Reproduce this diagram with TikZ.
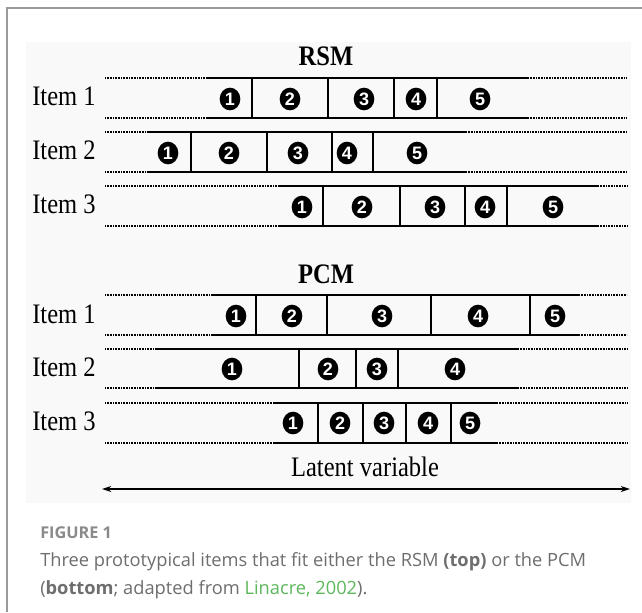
\documentclass[tikz,border=0pt]{standalone}
\usepackage{fontspec}
\usepackage{graphicx}
\setmainfont{Liberation Serif}
\newfontfamily\capfont{Open Sans}
\newfontfamily\numfont{Liberation Sans}
\usetikzlibrary{shapes.geometric,arrows.meta}
\definecolor{framegray}{HTML}{9A9A9A}
\definecolor{capgray}{HTML}{6E6E6E}
\definecolor{figgray}{HTML}{8A8A8A}
\definecolor{lingreen}{HTML}{5DB85C}
\definecolor{panel}{HTML}{F9F9F9}
\newcommand\tallText[1]{\scalebox{1}[1.15]{#1}}
\tikzset{
  lbl/.style={anchor=base west, font=\fontsize{18.4}{20}\selectfont, inner sep=0},
  ttl/.style={anchor=base, font=\fontsize{18.4}{20}\selectfont\bfseries, inner sep=0},
  num/.style={ellipse, fill=black, text=white, inner sep=0, minimum width=15.5pt, minimum height=17pt, font=\numfont\bfseries\fontsize{13.5}{13.5}\selectfont},
  solidln/.style={line width=1.5pt},
  divln/.style={line width=1.1pt},
  dotln/.style={line width=1.1pt, dash pattern=on 0.6pt off 0.6pt},
  captext/.style={anchor=base west, inner sep=0, text=capgray, font=\capfont\fontsize{13.7}{16}\selectfont},
}
\newcommand\myBarRow[5]{%
  \draw[dotln] (105,#1) -- (#3,#1) (105,#2) -- (#3,#2);
  \draw[dotln] (#4,#1) -- (627,#1) (#4,#2) -- (627,#2);
  \draw[solidln] (#3,#1) -- (#4,#1) (#3,#2) -- (#4,#2);
  \foreach \d in {#5} \draw[divln] (\d,#1) -- (\d,#2);
}
\begin{document}
\begin{tikzpicture}[x=0.75pt,y=-0.75pt]
\useasboundingbox (0,0) rectangle (642,612);
\fill[white] (0,0) rectangle (642,612);
\draw[framegray, line width=1.5pt] (7,612) -- (7,8) -- (642,8);
\fill[panel] (26,42) rectangle (631,503);

% RSM
\node[ttl] (rsm) at (326,65) {\tallText{RSM}};
\node[lbl] (r1) at (32,105) {\tallText{Item 1}};
\node[lbl] (r2) at (32,159) {\tallText{Item 2}};
\node[lbl] (r3) at (32,213) {\tallText{Item 3}};
\myBarRow{78}{118}{208}{528}{252,328,394,437}
\myBarRow{132}{172}{147}{466}{191,267,332,373}
\myBarRow{186}{226}{278}{598}{323,400,465,507}
\foreach \x [count=\i] in {230,290,364,416,480} \node[num] (ra\i) at (\x,99) {\i};
\foreach \x [count=\i] in {168,229,298,347,417} \node[num] (rb\i) at (\x,153) {\i};
\foreach \x [count=\i] in {302,362,435,485,553} \node[num] (rc\i) at (\x,207) {\i};

% PCM
\node[ttl] (pcm) at (326,283) {\tallText{PCM}};
\node[lbl] (p1) at (32,323) {\tallText{Item 1}};
\node[lbl] (p2) at (32,376) {\tallText{Item 2}};
\node[lbl] (p3) at (32,430) {\tallText{Item 3}};
\myBarRow{295}{335}{212}{579}{256,327,431,530}
\myBarRow{349}{388}{157}{518}{299,356,398}
\myBarRow{403}{443}{274}{497}{318,363,406,451}
\foreach \x [count=\i] in {236,292,382,478,555} \node[num] (pa\i) at (\x,316) {\i};
\foreach \x [count=\i] in {232,328,377,455} \node[num] (pb\i) at (\x,369) {\i};
\foreach \x [count=\i] in {293,340,384,428,470} \node[num] (pc\i) at (\x,423) {\i};

% latent variable axis
\node[anchor=base, font=\fontsize{18.4}{20}\selectfont, inner sep=0] (lat) at (365,476) {\tallText{Latent variable}};
\coordinate (aL) at (102,489);
\coordinate (aR) at (630,489);
\draw[{Stealth[length=7pt,width=4.5pt]}-{Stealth[length=7pt,width=4.5pt]}, line width=0.9pt] (aL) -- (aR);

% caption
\node[captext, text=figgray, font=\capfont\bfseries\fontsize{12.2}{14}\selectfont] (fig) at (40,538) {FIGURE 1};
\node[captext] (c1) at (40,566) {Three prototypical items that fit either the RSM \textbf{(top)} or the PCM};
\node[captext] (c2) at (40,594) {(\textbf{bottom}; adapted from \textcolor{lingreen}{Linacre, 2002}).};
\end{tikzpicture}
\end{document}
